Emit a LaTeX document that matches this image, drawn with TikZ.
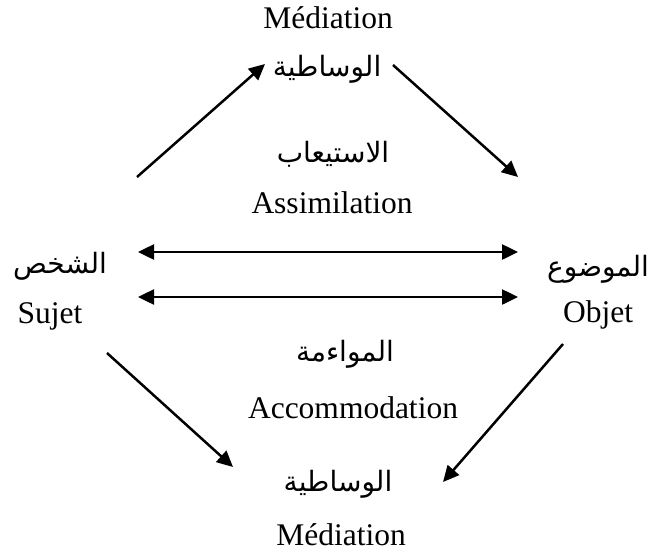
\documentclass[tikz,border=0pt]{standalone}
\usepackage{fontspec}
\setmainfont{Liberation Serif}
\newfontfamily\arabicfont[Script=Arabic]{DejaVu Sans}
\TeXXeTstate=1
\usetikzlibrary{positioning,arrows.meta}

\begin{document}
\begin{tikzpicture}[
	x=0.5pt,y=-0.5pt,
	latin/.style={font=\fontsize{15.75}{18}\selectfont,inner sep=0pt,anchor=base},
	arabic/.style={font=\arabicfont\fontsize{14}{17}\selectfont,inner sep=0pt},
	tip/.tip={Triangle[length=8pt,width=7.5pt]},
	myarrow/.style={-tip,line width=1.25pt},
	bothways/.style={tip-tip,line width=1.25pt}
	]
	\useasboundingbox (0,0) rectangle (651,551);
	% top
	\node[latin] (medtop) at (328,29) {Médiation};
	\node[arabic] (wasattop) at (327,69) {\beginR الوساطية\endR};
	\node[arabic] (istiab) at (333,154) {\beginR الاستيعاب\endR};
	\node[latin] (assim) at (332,213) {Assimilation};
	% sides
	\node[arabic] (shakhs) at (60,266) {\beginR الشخص\endR};
	\node[latin] (sujet) at (50,323) {Sujet};
	\node[arabic] (mawdu) at (598,269) {\beginR الموضوع\endR};
	\node[latin] (objet) at (598,322) {Objet};
	% bottom
	\node[arabic] (muwaama) at (345,354) {\beginR المواءمة\endR};
	\node[latin] (accom) at (353,418) {Accommodation};
	\node[arabic] (wasatbot) at (338,484) {\beginR الوساطية\endR};
	\node[latin] (medbot) at (341,545) {Médiation};
	% arrow ends
	\coordinate (a1s) at (137,177);
	\coordinate (a1e) at (265,64);
	\coordinate (a2s) at (393,65);
	\coordinate (a2e) at (518,177);
	\coordinate (b1l) at (138,252);
	\coordinate (b1r) at (518,252);
	\coordinate (b2l) at (138,297);
	\coordinate (b2r) at (518,297);
	\coordinate (a3s) at (107,353);
	\coordinate (a3e) at (233,467);
	\coordinate (a4s) at (563,344);
	\coordinate (a4e) at (443,482);
	\path [myarrow]
	(a1s) edge (a1e)
	(a2s) edge (a2e)
	(a3s) edge (a3e)
	(a4s) edge (a4e);
	\path [bothways]
	(b1l) edge (b1r)
	(b2l) edge (b2r);
\end{tikzpicture}
\end{document}
